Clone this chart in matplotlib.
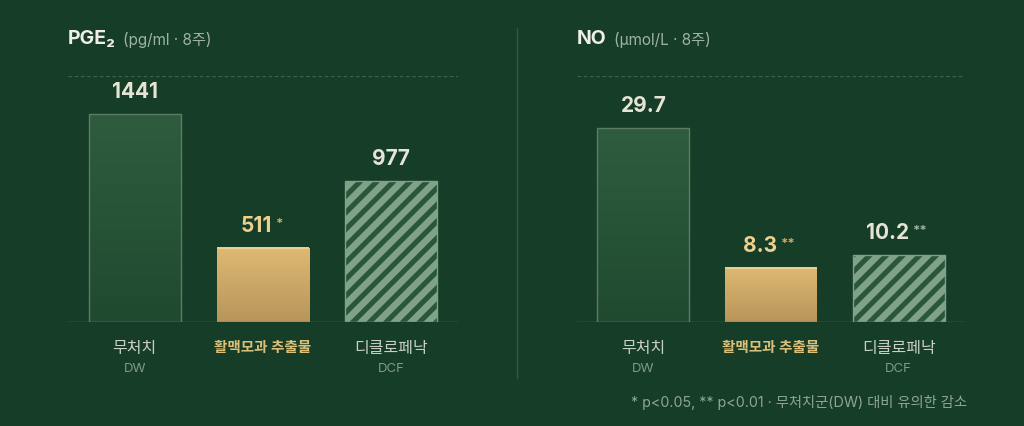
import numpy as np
import matplotlib.pyplot as plt
from matplotlib.colors import LinearSegmentedColormap
from matplotlib.patches import Rectangle

plt.rcParams['font.family'] = ['Inter', 'Noto Sans CJK KR', 'DejaVu Sans']
plt.rcParams['hatch.linewidth'] = 4.8

# === data ===
categories = ["무처치", "활맥모과 추출물", "디클로페낙"]
codes = ["DW", "", "DCF"]
pge2_values = [1441, 511, 977]
pge2_labels = ["1441", "511", "977"]
pge2_sig = ["", "*", ""]
no_values = [29.7, 8.3, 10.2]
no_labels = ["29.7", "8.3", "10.2"]
no_sig = ["", "**", "**"]
footnote = "* p<0.05, ** p<0.01 · 무처치군(DW) 대비 유의한 감소"

# === colours ===
BG = '#163d27'
CREAM = '#e6e4d6'
GOLD_TXT = '#ebd08e'
GOLD_STAR = '#c8ad6c'
SAGE_STAR = '#a0b3a2'
CAT_TXT = '#c9cfc4'
CODE_TXT = '#7f9a86'
UNIT_TXT = '#9fb3a3'

W, H = 1024, 426
fig = plt.figure(figsize=(W / 100, H / 100), dpi=100, facecolor=BG)


def px(x, y):
    return x / W, 1 - y / H


def gradient_fill(ax, bar, c_top, c_bot, z):
    x0, y0 = bar.get_x(), bar.get_y()
    w, h = bar.get_width(), bar.get_height()
    cmap = LinearSegmentedColormap.from_list('g', [c_bot, c_top])
    grad = np.linspace(0, 1, 256).reshape(-1, 1)
    im = ax.imshow(grad, cmap=cmap, aspect='auto', origin='lower',
                   extent=(x0, x0 + w, y0, y0 + h), zorder=z)
    im.set_clip_path(bar)


def draw_panel(left, right, values, labels, sig, ytop, title, unit):
    l, b = left / W, (H - 322) / H
    ax = fig.add_axes([l, b, (right - left) / W, 246 / H])
    ax.set_facecolor('none')
    ax.set_xlim(-0.52, 2.52)
    ax.set_ylim(0, ytop)
    ax.axis('off')
    x = np.arange(len(values))
    width = 0.72

    bars = ax.bar(x, values, width=width, zorder=2)
    # DW bar: translucent green with outline
    b0 = bars[0]
    b0.set_facecolor('#2a5239')
    b0.set_edgecolor('none')
    gradient_fill(ax, b0, '#2f5c3e', '#1f4a30', 2.5)
    ax.add_patch(Rectangle((b0.get_x(), 0), b0.get_width(), values[0],
                           fill=False, edgecolor='#5b7d65', lw=1.0, zorder=3))
    # extract bar: gold gradient
    b1 = bars[1]
    b1.set_facecolor('#c9a663')
    b1.set_edgecolor('none')
    gradient_fill(ax, b1, '#ddb972', '#b8955a', 2.5)
    ax.plot([x[1] - width / 2, x[1] + width / 2], [values[1], values[1]],
            color='#ecd293', lw=1.4, zorder=3, solid_capstyle='butt')
    # DCF bar: hatched
    b2 = bars[2]
    b2.set_facecolor('#2a563a')
    b2.set_edgecolor('#7fa289')
    b2.set_hatch('//')
    b2.set_linewidth(1.0)

    # baseline + dashed top line
    ax.axhline(0, color='#57775f', lw=1.0, zorder=4)
    ax.axhline(ytop, color='#3d634a', lw=0.9, ls=(0, (3, 2)), zorder=1)

    # value labels
    for i, (v, lab, s) in enumerate(zip(values, labels, sig)):
        col = GOLD_TXT if i == 1 else CREAM
        shift = {"": 0, "*": -5, "**": -8}[s]
        t = ax.annotate(lab, xy=(x[i], v), xytext=(shift, 16),
                        textcoords='offset points', ha='center', va='center',
                        fontsize=15, fontweight='bold', color=col, zorder=5)
        if s:
            ax.annotate(s, xy=(1, 0.6), xycoords=t, xytext=(3, 0),
                        textcoords='offset points', ha='left', va='center',
                        fontsize=9.5, fontweight='bold',
                        color=GOLD_STAR if i == 1 else SAGE_STAR)

    # category labels
    for i, (c, code) in enumerate(zip(categories, codes)):
        xx = ax.transData.transform((x[i], 0))[0] / W
        if i == 1:
            fig.text(xx, px(0, 348)[1], c, ha='center', va='center',
                     fontsize=10.5, fontweight='bold', color='#dcbf78')
        else:
            fig.text(xx, px(0, 348)[1], c, ha='center', va='center',
                     fontsize=11.5, color=CAT_TXT)
        if code:
            fig.text(xx, px(0, 369)[1], code, ha='center', va='center',
                     fontsize=9.5, color=CODE_TXT)

    # title + unit
    tx, ty = px(left, 39)
    t = fig.text(tx, ty, title, ha='left', va='center', fontsize=14,
                 fontweight='bold', color='#f0efe6')
    fig.add_artist(plt.Annotation(unit, xy=(1, 0.45), xycoords=t,
                                  xytext=(5, 0), textcoords='offset points',
                                  ha='left', va='center', fontsize=11,
                                  color=UNIT_TXT))
    return ax


ax1 = draw_panel(68, 458, pge2_values, pge2_labels, pge2_sig, 1704,
                 "PGE₂", "(pg/ml · 8주)")
ax2 = draw_panel(577, 965, no_values, no_labels, no_sig, 37.7,
                 "NO", "(μmol/L · 8주)")

# vertical divider
fig.add_artist(plt.Line2D([517 / W, 517 / W], [px(0, 28)[1], px(0, 378)[1]],
                          color='#2f5a3e', lw=1.0))

# footnote
fx, fy = px(967, 402)
fig.text(fx, fy, footnote, ha='right', va='center', fontsize=10.3,
         color='#8fa595')

fig.savefig('out.png', dpi=100, facecolor=BG)
